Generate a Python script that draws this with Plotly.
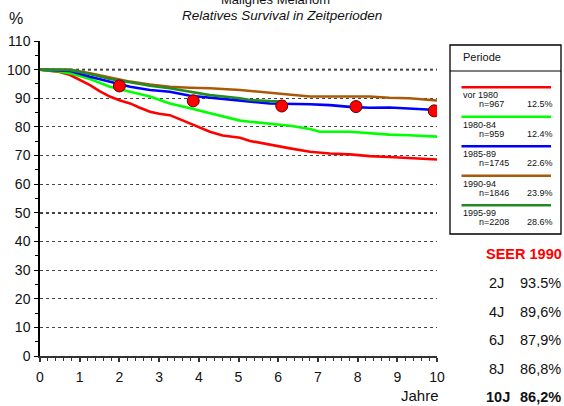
import plotly.graph_objects as go

# ---------------- data ----------------
periods = ["vor 1980", "1980-84", "1985-89", "1990-94", "1995-99"]
n_labels = ["n=967", "n=959", "n=1745", "n=1846", "n=2208"]
pct_labels = ["12.5%", "12.4%", "22.6%", "23.9%", "28.6%"]
colors = ["#FF0000", "#00FF00", "#0000FF", "#A85A0A", "#228B22"]

red_x = [0, 0.5, 0.76, 1.0, 1.26, 1.5, 1.76, 2.0, 2.27, 2.5, 2.77, 3.0, 3.27, 3.5, 3.78, 4.0, 4.28, 4.6, 5.04, 5.29, 5.79, 6.3, 6.8, 7.3, 7.8, 8.3, 8.8, 9.3, 10]
red_y = [100, 99.2, 98.1, 96.5, 94.6, 92.5, 90.6, 89.3, 88.2, 86.8, 85.3, 84.6, 84.1, 82.8, 81.2, 79.8, 78.3, 77.0, 76.2, 75.1, 73.7, 72.5, 71.3, 70.7, 70.4, 69.8, 69.5, 69.2, 68.6]

green_x = [0, 0.5, 0.76, 1.26, 1.76, 2.0, 2.27, 2.77, 3.27, 3.78, 4.28, 4.79, 5.04, 5.29, 5.79, 6.3, 6.8, 7.05, 7.8, 8.3, 8.8, 9.3, 10]
green_y = [100, 99.4, 98.7, 96.7, 94.0, 93.1, 92.3, 90.6, 88.2, 86.5, 84.8, 83.0, 82.2, 81.8, 81.0, 80.4, 79.3, 78.3, 78.3, 77.7, 77.3, 77.1, 76.6]

blue_x = [0, 0.5, 0.76, 1.26, 1.76, 2.27, 2.77, 3.27, 3.78, 4.28, 5.04, 5.79, 6.8, 7.3, 7.8, 8.3, 8.8, 9.3, 10]
blue_y = [100, 99.8, 99.5, 97.5, 95.8, 94.0, 92.9, 92.3, 90.9, 90.2, 89.0, 88.2, 87.9, 87.6, 87.0, 86.7, 86.8, 86.5, 85.9]

brown_x = [0, 0.76, 1.26, 1.76, 2.27, 2.77, 3.27, 3.78, 4.28, 5.04, 5.29, 5.79, 6.3, 6.8, 7.3, 7.8, 8.3, 8.8, 9.3, 10]
brown_y = [100, 99.9, 98.7, 97.2, 95.8, 94.8, 94.0, 93.7, 93.5, 92.9, 92.6, 92.0, 91.3, 90.6, 90.6, 90.5, 90.6, 90.2, 90.0, 89.2]

dkgreen_x = [0, 0.76, 1.26, 1.76, 2.27, 2.77, 3.27, 3.78, 4.28, 5.04, 5.29, 5.79, 6.2]
dkgreen_y = [100, 99.9, 98.5, 96.7, 95.6, 94.4, 93.5, 92.3, 91.1, 90.0, 89.4, 89.0, 88.8]

seer_x = [2.0, 3.86, 6.09, 7.96, 9.93]
seer_y = [94.3, 89.1, 87.3, 87.1, 85.6]
seer_year_labels = ["2J", "4J", "6J", "8J", "10J"]
seer_value_labels = ["93.5%", "89,6%", "87,9%", "86,8%", "86,2%"]

y_ticks = list(range(0, 111, 10))
x_ticks = list(range(0, 11))

series = [(red_x, red_y), (green_x, green_y), (blue_x, blue_y), (brown_x, brown_y), (dkgreen_x, dkgreen_y)]

# ---------------- layout helpers ----------------
W, H = 564, 406
L, R, T, B = 40, 437, 41, 356   # plot area in pixels
FONT = "Liberation Sans, Arial, sans-serif"

def px(xp):
    return (xp - L) / (R - L)

def py(yp):
    return (B - yp) / (B - T)

fig = go.Figure()

for (xs, ys), c, name in zip(series, colors, periods):
    fig.add_trace(go.Scatter(x=xs, y=ys, mode="lines", name=name,
                             line=dict(color=c, width=2.6), showlegend=False))

fig.add_trace(go.Scatter(x=seer_x, y=seer_y, mode="markers", showlegend=False,
                         marker=dict(color="#FF0000", size=12,
                                     line=dict(color="#600000", width=1))))

shapes = []
# heavier dotted gridlines at 50 and 100
for v in (50, 100):
    shapes.append(dict(type="line", xref="x", yref="y", x0=0, x1=10, y0=v, y1=v,
                       line=dict(color="black", width=1.8, dash="dot"), layer="below"))

# legend box
shapes.append(dict(type="rect", xref="paper", yref="paper",
                   x0=px(450), x1=px(561), y0=py(234), y1=py(45),
                   line=dict(color="black", width=1.3), fillcolor="white"))
shapes.append(dict(type="line", xref="paper", yref="paper",
                   x0=px(450), x1=px(561), y0=py(71), y1=py(71),
                   line=dict(color="black", width=1)))

annotations = []
annotations.append(dict(text="Periode", xref="paper", yref="paper", x=px(461), y=py(57),
                        xanchor="left", yanchor="middle", showarrow=False,
                        font=dict(family=FONT, size=11, color="#111")))
for i, (c, p, n, pc) in enumerate(zip(colors, periods, n_labels, pct_labels)):
    base = 87.3 + i * 29.5
    shapes.append(dict(type="line", xref="paper", yref="paper",
                       x0=px(461.5), x1=px(551), y0=py(base), y1=py(base),
                       line=dict(color=c, width=2.6)))
    annotations.append(dict(text=p, xref="paper", yref="paper", x=px(461), y=py(base + 8),
                            xanchor="left", yanchor="middle", showarrow=False,
                            font=dict(family=FONT, size=9, color="#111")))
    annotations.append(dict(text=n, xref="paper", yref="paper", x=px(477), y=py(base + 17),
                            xanchor="left", yanchor="middle", showarrow=False,
                            font=dict(family=FONT, size=9, color="#111")))
    annotations.append(dict(text=pc, xref="paper", yref="paper", x=px(555), y=py(base + 17),
                            xanchor="right", yanchor="middle", showarrow=False,
                            font=dict(family=FONT, size=9, color="#111")))

# SEER block
annotations.append(dict(text="<b>SEER 1990</b>", xref="paper", yref="paper", x=px(484), y=py(254),
                        xanchor="left", yanchor="middle", showarrow=False,
                        font=dict(family=FONT, size=14.5, color="#FF0000")))
for i, (yl, vl) in enumerate(zip(seer_year_labels, seer_value_labels)):
    yy = 283 + i * 28.5
    bold = (i == len(seer_year_labels) - 1)
    t1 = f"<b>{yl}</b>" if bold else yl
    t2 = f"<b>{vl}</b>" if bold else vl
    annotations.append(dict(text=t1, xref="paper", yref="paper", x=px(484 if bold else 487), y=py(yy),
                            xanchor="left", yanchor="middle", showarrow=False,
                            font=dict(family=FONT, size=14.5, color="#111")))
    annotations.append(dict(text=t2, xref="paper", yref="paper", x=px(563), y=py(yy),
                            xanchor="right", yanchor="middle", showarrow=False,
                            font=dict(family=FONT, size=14.5, color="#111")))

# titles and axis captions
annotations.append(dict(text="Malignes Melanom", xref="paper", yref="paper", x=px(275), y=py(-1),
                        xanchor="center", yanchor="middle", showarrow=False,
                        font=dict(family=FONT, size=13, color="#111")))
annotations.append(dict(text="<i>Relatives Survival in Zeitperioden</i>", xref="paper", yref="paper",
                        x=px(282), y=py(15), xanchor="center", yanchor="middle", showarrow=False,
                        font=dict(family=FONT, size=13.5, color="#111")))
annotations.append(dict(text="%", xref="paper", yref="paper", x=px(16), y=py(18),
                        xanchor="center", yanchor="middle", showarrow=False,
                        font=dict(family=FONT, size=16, color="#111")))
annotations.append(dict(text="Jahre", xref="paper", yref="paper", x=px(441), y=py(395),
                        xanchor="right", yanchor="middle", showarrow=False,
                        font=dict(family=FONT, size=15, color="#111")))

fig.update_layout(
    width=W, height=H,
    margin=dict(l=L, r=W - R, t=T, b=H - B, pad=0, autoexpand=False),
    paper_bgcolor="white", plot_bgcolor="white",
    shapes=shapes, annotations=annotations,
    font=dict(family=FONT, size=13, color="#111"),
    xaxis=dict(range=[0, 10], tickvals=x_ticks, showgrid=False, zeroline=False, automargin=False,
               showline=True, linecolor="#333", linewidth=2,
               ticks="outside", ticklen=4, tickcolor="#333", tickwidth=1.5,
               minor=dict(dtick=0.2, ticks="outside", ticklen=3, tickcolor="#333", tickwidth=1.2),
               tickfont=dict(family=FONT, size=14, color="#111"), ticklabelstandoff=3),
    yaxis=dict(range=[0, 110], tickvals=y_ticks, showgrid=True, gridcolor="#444", automargin=False,
               griddash="dot", gridwidth=1, zeroline=False,
               showline=True, linecolor="black", linewidth=1.5,
               ticks="outside", ticklen=4, tickcolor="black", tickwidth=1,
               minor=dict(dtick=5, ticks="outside", ticklen=3, tickcolor="black", showgrid=False),
               tickfont=dict(family=FONT, size=14, color="#111"), ticklabelstandoff=1),
)

fig.write_html("out.html", config={"displayModeBar": False},
               post_script="document.body.style.margin='0';document.body.style.overflow='hidden';")
